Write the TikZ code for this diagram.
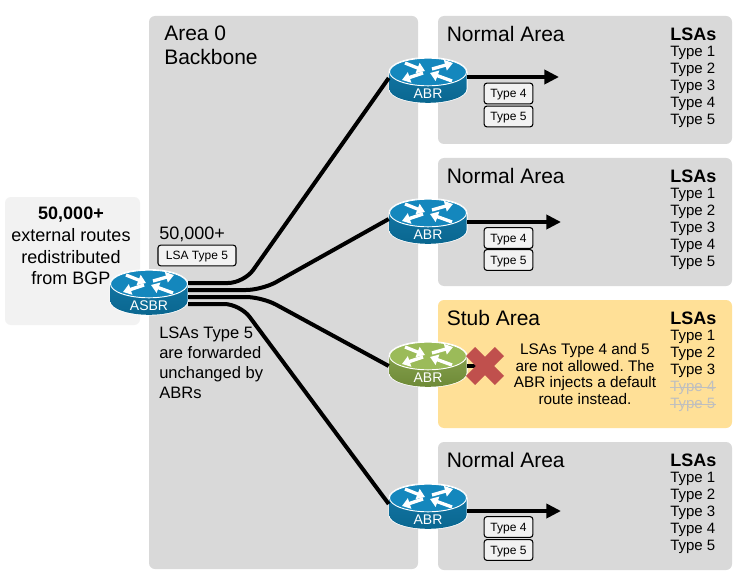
\documentclass[tikz,border=0pt]{standalone}
\usepackage{fontspec}
\setmainfont{Liberation Sans}
\usetikzlibrary{calc,arrows.meta}
\frenchspacing
\definecolor{panelgray}{HTML}{D9D9D9}
\definecolor{leftgray}{HTML}{F2F2F2}
\definecolor{stubfill}{HTML}{FFE097}
\definecolor{crosscol}{HTML}{C0504D}
\definecolor{strikecol}{HTML}{BFBFBF}
\definecolor{blueTop}{HTML}{1487BD}
\definecolor{blueSideA}{HTML}{0A6790}
\definecolor{greenTop}{HTML}{9BBB59}
\definecolor{greenSideA}{HTML}{6E8A37}
\tikzset{
  x=0.75pt,y=-0.75pt,
  panel/.style={fill=panelgray,draw=none,rounded corners=4.5pt},
  headtext/.style={anchor=west,inner sep=0pt,font=\fontsize{15.75pt}{18pt}\selectfont},
  lsahead/.style={anchor=west,inner sep=0pt,font=\fontsize{13.5pt}{16pt}\selectfont\bfseries},
  lsaitem/.style={anchor=west,inner sep=0pt,font=\fontsize{11.25pt}{13pt}\selectfont},
  tagbox/.style={draw=black,line width=0.8pt,fill=leftgray,rounded corners=2pt,inner sep=0pt,minimum height=15.5pt,text height=6.4pt,text depth=0pt,font=\fontsize{9pt}{11pt}\selectfont},
  conn/.style={draw=black,line width=3pt,rounded corners=12pt},
  flow/.style={draw=black,line width=3pt,-{Triangle[length=11pt,width=10.5pt]}},
  routerbox/.style={minimum width=58.5pt,minimum height=33pt,inner sep=0pt,draw=none},
  routerlabel/.style={text=white,inner sep=0pt,font=\fontsize{10.5pt}{12pt}\selectfont},
  rarrow/.style={draw=white,line width=2.5pt,-{Triangle[length=6pt,width=8pt]}},
}
\newcommand{\lsalist}[2]{%
  \node[lsahead] (lh#1) at (670,#2) {LSAs};
  \node[lsaitem] (la#1) at (670,#2+18.5) {Type 1};
  \node[lsaitem] (lb#1) at (670,#2+35.5) {Type 2};
  \node[lsaitem] (lc#1) at (670,#2+52.5) {Type 3};
}
\newcommand{\routerdraw}[6]{% name, cx, cy(top ellipse), label, top, side
  \fill[white] (#2-39.5,#3) -- (#2-39.5,#3+17) arc[start angle=180,end angle=360,x radius=39.5,y radius=-14.5] -- (#2+39.5,#3) arc[start angle=0,end angle=180,x radius=39.5,y radius=-15] -- cycle;
  \shade[top color=#5!85!black,bottom color=#6] (#2-38.5,#3) -- (#2-38.5,#3+17) arc[start angle=180,end angle=360,x radius=38.5,y radius=-13.8] -- (#2+38.5,#3) -- cycle;
  \fill[#5,draw=white,line width=0.7pt] (#2,#3) ellipse[x radius=38.5,y radius=13.8];
  \draw[rarrow] (#2-23,#3-9) -- (#2-3,#3-1);
  \draw[rarrow] (#2+4,#3-3) -- (#2+25,#3-9);
  \draw[rarrow] (#2-5,#3+1) -- (#2-26,#3+8);
  \draw[rarrow] (#2+24,#3+9) -- (#2+2,#3+1);
  \node[routerbox] (#1) at (#2,#3+6) {};
  \node[routerlabel] (#1t) at (#2,#3+21.5) {#4};
}
\begin{document}
\begin{tikzpicture}
\useasboundingbox (0,0) rectangle (742,581);
\fill[white] (0,0) rectangle (742,581);
% panels
\path[panel,fill=leftgray] (5,197) rectangle (140,325);
\path[panel] (149,16) rectangle (418,569);
\path[panel] (438,16) rectangle (732,144);
\path[panel] (438,158) rectangle (732,286);
\path[panel,fill=stubfill] (438,300) rectangle (732,428);
\path[panel] (438,442) rectangle (732,570);
% routers
\routerdraw{abra}{428}{72}{ABR}{blueTop}{blueSideA}
\routerdraw{abrb}{428}{213}{ABR}{blueTop}{blueSideA}
\routerdraw{abrc}{428}{356}{ABR}{greenTop}{greenSideA}
\routerdraw{abrd}{428}{498}{ABR}{blueTop}{blueSideA}
\routerdraw{asbr}{149}{284}{ASBR}{blueTop}{blueSideA}
% connectors
\coordinate (asbrport) at (188,293);
\draw[conn] ($(asbrport)+(0,-10)$) -- (244,283) -- (abra.west);
\draw[conn] ($(asbrport)+(0,-3)$) -- (262,290) -- (abrb.west);
\draw[conn] ($(asbrport)+(0,4)$) -- (262,297) -- ($(abrc.west)+(0,4)$);
\draw[conn] ($(asbrport)+(0,11)$) -- (240,304) -- (abrd.west);
% flow arrows
\coordinate (enda) at (559,77);
\coordinate (endb) at (561,222);
\coordinate (endd) at (561,511);
\draw[flow] (abra.east |- enda) -- (enda);
\draw[flow] (abrb.east |- endb) -- (endb);
\draw[flow] (abrd.east |- endd) -- (endd);
% stub stop
\coordinate (stopc) at (485,366);
\draw[line width=3pt] (abrc.east |- stopc) -- (stopc);
\draw[crosscol,line width=9.75pt] (470.6,351.6) -- (499.4,380.4);
\draw[crosscol,line width=9.75pt] (499.4,351.6) -- (470.6,380.4);
% tags
\node[tagbox,minimum width=36.5pt] (ta) at (508.5,93.5) {Type 4};
\node[tagbox,minimum width=36.5pt] (tb) at (508.5,116.5) {Type 5};
\node[tagbox,minimum width=36.5pt] (tc) at (508.5,238) {Type 4};
\node[tagbox,minimum width=36.5pt] (td) at (508.5,260) {Type 5};
\node[tagbox,minimum width=36.5pt] (te) at (508.5,527) {Type 4};
\node[tagbox,minimum width=36.5pt] (tf) at (508.5,550) {Type 5};
\node[tagbox,minimum width=58.5pt] (tg) at (197,255.5) {LSA Type 5};
% titles
\node[headtext,anchor=north west,align=left,font=\fontsize{15.75pt}{18pt}\selectfont] (ar0) at (164,25.5) {Area 0\\Backbone};
\node[headtext] (na) at (446.5,34) {Normal Area};
\node[headtext] (nb) at (446.5,176) {Normal Area};
\node[headtext] (nc) at (446.5,318) {Stub Area};
\node[headtext] (nd) at (446.5,460) {Normal Area};
% LSA lists
\lsalist{p}{34}
\node[lsaitem] (ldp) at (670,103.5) {Type 4};
\node[lsaitem] (lep) at (670,120.5) {Type 5};
\lsalist{q}{176}
\node[lsaitem] (ldq) at (670,245.5) {Type 4};
\node[lsaitem] (leq) at (670,262.5) {Type 5};
\lsalist{r}{318}
\node[lsaitem,text=strikecol] (ldr) at (670,387.5) {Type 4};
\node[lsaitem,text=strikecol] (ler) at (670,404.5) {Type 5};
\draw[strikecol,line width=0.75pt] (ldr.west) -- (ldr.east);
\draw[strikecol,line width=0.75pt] (ler.west) -- (ler.east);
\lsalist{s}{460}
\node[lsaitem] (lds) at (670,529.5) {Type 4};
\node[lsaitem] (les) at (670,546.5) {Type 5};
% body text
\node[inner sep=0pt,align=center,font=\fontsize{13.5pt}{16.3pt}\selectfont] (lefttext) at (71,246) {\textbf{50,000+}\\external routes\\redistributed\\from BGP};
\node[headtext,font=\fontsize{13.5pt}{16pt}\selectfont] (count) at (159,234) {50,000+};
\node[anchor=north west,inner sep=0pt,align=left,font=\fontsize{12.4pt}{15pt}\selectfont] (fwd) at (159,327) {LSAs Type 5\\are forwarded\\unchanged by\\ABRs};
\node[inner sep=0pt,align=center,font=\fontsize{11.5pt}{12.6pt}\selectfont] (stubtext) at (585,374) {LSAs Type 4 and 5\\are not allowed. The\\ABR injects a default\\route instead.};
\end{tikzpicture}
\end{document}
